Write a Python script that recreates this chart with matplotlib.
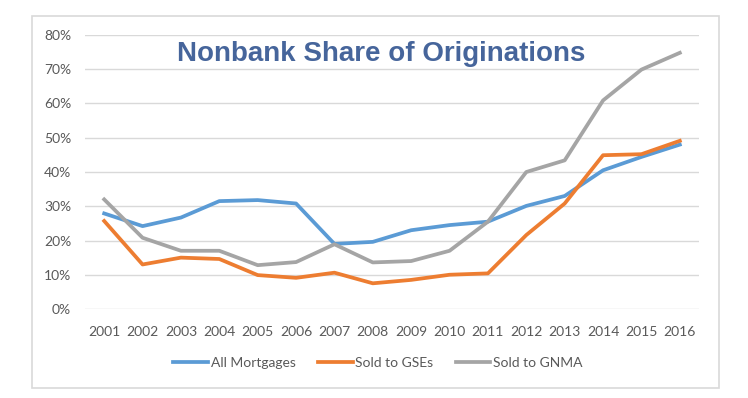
import matplotlib
matplotlib.use("Agg")
import matplotlib.pyplot as plt
import matplotlib.patches as mpatches
from matplotlib.ticker import FuncFormatter

# data
years = ["2001", "2002", "2003", "2004", "2005", "2006", "2007", "2008",
         "2009", "2010", "2011", "2012", "2013", "2014", "2015", "2016"]
all_mortgages = [27.9, 24.2, 26.7, 31.5, 31.8, 30.8, 19.0, 19.6,
                 23.0, 24.5, 25.5, 30.1, 33.0, 40.5, 44.4, 48.0]
sold_to_gses = [25.7, 13.0, 15.0, 14.6, 9.9, 9.1, 10.6, 7.5,
                8.5, 10.0, 10.4, 21.6, 30.8, 44.9, 45.2, 49.1]
sold_to_gnma = [32.0, 20.8, 17.0, 17.0, 12.8, 13.7, 18.9, 13.6,
                14.0, 17.0, 25.5, 40.0, 43.4, 60.9, 69.9, 74.8]
y_ticks = [0, 10, 20, 30, 40, 50, 60, 70, 80]

W, H = 748, 398
fig = plt.figure(figsize=(W / 100, H / 100), dpi=100)
fig.patch.set_facecolor("white")

# outer chart frame (behind the axes)
fig.patches.append(mpatches.Rectangle(
    (32 / W, 1 - 388 / H), (719 - 32) / W, (388 - 16) / H,
    transform=fig.transFigure, facecolor="white", edgecolor="#D9D9D9",
    linewidth=1.2, zorder=-1))

ax = fig.add_axes([85 / W, 1 - 309 / H, (699 - 85) / W, (309 - 35) / H])
ax.set_facecolor("none")
ax.set_zorder(2)

x = range(len(years))
ax.plot(x, all_mortgages, color="#5B9BD5", linewidth=2.7,
        label="All Mortgages", solid_joinstyle="round", zorder=3)
ax.plot(x, sold_to_gses, color="#ED7D31", linewidth=2.7,
        label="Sold to GSEs", solid_joinstyle="round", zorder=3)
ax.plot(x, sold_to_gnma, color="#A5A5A5", linewidth=2.7,
        label="Sold to GNMA", solid_joinstyle="round", zorder=3)

ax.set_xlim(-0.5, len(years) - 0.5)
ax.set_ylim(0, 80)
ax.set_xticks(list(x))
ax.set_xticklabels(years)
ax.set_yticks(y_ticks)
ax.yaxis.set_major_formatter(FuncFormatter(lambda v, _: f"{v:.0f}%"))

ax.grid(True, axis="y", color="#D9D9D9", linewidth=1.0, zorder=0)
for s in ax.spines.values():
    s.set_visible(False)
ax.tick_params(axis="both", length=0, labelsize=10, labelcolor="#595959")
ax.tick_params(axis="y", pad=10)
ax.tick_params(axis="x", pad=12)
for lbl in ax.get_xticklabels() + ax.get_yticklabels():
    lbl.set_fontfamily("Lato")

fig.text(381 / W, 1 - 54 / H, "Nonbank Share of Originations",
         ha="center", va="center", fontsize=20, fontweight="bold",
         color="#46659B", fontfamily="Liberation Sans", zorder=5)

leg = fig.legend(loc="center", bbox_to_anchor=(378 / W, 1 - 363 / H),
                 ncol=3, frameon=False, handlelength=2.5,
                 handletextpad=0.2, columnspacing=1.6,
                 prop={"family": "Lato", "size": 10})
for t in leg.get_texts():
    t.set_color("#595959")

fig.savefig("out.png", dpi=100)
